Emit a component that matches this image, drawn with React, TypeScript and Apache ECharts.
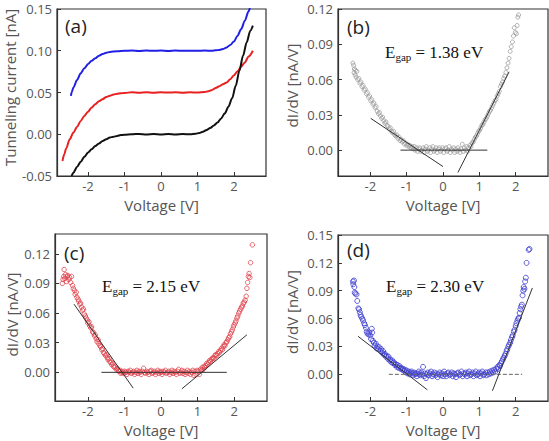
import { useEffect, useRef } from "react";
import * as echarts from "echarts";

// ---- tick values ----
const voltTicks = [-2, -1, 0, 1, 2];
const currentTicks = [-0.05, 0, 0.05, 0.1, 0.15];
const didvTicksB = [0, 0.03, 0.06, 0.09, 0.12];
const didvTicksC = [0, 0.03, 0.06, 0.09, 0.12];
const didvTicksD = [0, 0.03, 0.06, 0.09, 0.12, 0.15];

// ---- (a) I–V curves: [voltage V, current nA] ----
const ivBlack = [
  [-2.45, -0.05], [-2.4, -0.046], [-2.3, -0.039], [-2.2, -0.033], [-2.1, -0.027], [-2.0, -0.022],
  [-1.9, -0.018], [-1.8, -0.014], [-1.7, -0.011], [-1.6, -0.008], [-1.5, -0.006], [-1.4, -0.004],
  [-1.3, -0.003], [-1.2, -0.002], [-1.1, -0.001], [-1.0, -0.0006], [-0.8, 0.0], [-0.6, 0.0004],
  [-0.4, -0.0003], [-0.2, 0.0003], [0.0, -0.0002], [0.2, 0.0003], [0.4, -0.0002], [0.6, 0.0002],
  [0.8, 0.0], [0.95, 0.0005], [1.05, 0.0015], [1.15, 0.003], [1.25, 0.005], [1.35, 0.0075],
  [1.45, 0.0105], [1.55, 0.014], [1.65, 0.019], [1.75, 0.025], [1.85, 0.033], [1.95, 0.043],
  [2.05, 0.058], [2.15, 0.076], [2.25, 0.094], [2.35, 0.11], [2.45, 0.124], [2.52, 0.13],
];
const ivRed = [
  [-2.7, -0.032], [-2.65, -0.024], [-2.6, -0.017], [-2.5, -0.006], [-2.4, 0.002], [-2.3, 0.009],
  [-2.2, 0.016], [-2.1, 0.022], [-2.0, 0.027], [-1.9, 0.032], [-1.8, 0.036], [-1.7, 0.0395],
  [-1.6, 0.042], [-1.5, 0.0445], [-1.4, 0.046], [-1.3, 0.0475], [-1.2, 0.0485], [-1.1, 0.049],
  [-1.0, 0.0495], [-0.8, 0.0502], [-0.6, 0.0498], [-0.4, 0.0503], [-0.2, 0.0498], [0.0, 0.0502],
  [0.2, 0.0499], [0.4, 0.0502], [0.6, 0.0498], [0.8, 0.0502], [1.0, 0.05], [1.2, 0.0505],
  [1.3, 0.0515], [1.4, 0.053], [1.5, 0.0553], [1.6, 0.0575], [1.7, 0.0598], [1.8, 0.062],
  [1.9, 0.066], [2.0, 0.0705], [2.1, 0.0755], [2.2, 0.081], [2.3, 0.086], [2.4, 0.093], [2.52, 0.1],
];
const ivBlue = [
  [-2.47, 0.046], [-2.44, 0.051], [-2.4, 0.056], [-2.3, 0.065], [-2.2, 0.073], [-2.1, 0.079],
  [-2.0, 0.084], [-1.9, 0.088], [-1.8, 0.091], [-1.7, 0.094], [-1.6, 0.096], [-1.5, 0.0975],
  [-1.4, 0.0985], [-1.2, 0.0995], [-1.0, 0.1], [-0.8, 0.1002], [-0.6, 0.0998], [-0.4, 0.1002],
  [-0.2, 0.0999], [0.0, 0.1002], [0.2, 0.0998], [0.4, 0.1002], [0.6, 0.0999], [0.8, 0.1001],
  [1.0, 0.0999], [1.2, 0.1002], [1.4, 0.1], [1.5, 0.1005], [1.6, 0.101], [1.7, 0.102],
  [1.8, 0.104], [1.9, 0.107], [2.0, 0.111], [2.1, 0.118], [2.2, 0.126], [2.3, 0.136],
  [2.4, 0.147], [2.46, 0.155],
];

// ---- (b) dI/dV, Egap = 1.38 eV ----
const didvB = [
  [-2.48, 0.074], [-2.46, 0.072], [-2.45, 0.066], [-2.44, 0.069], [-2.42, 0.064], [-2.41, 0.068],
  [-2.39, 0.062], [-2.37, 0.067], [-2.35, 0.06], [-2.32, 0.061], [-2.29, 0.057], [-2.26, 0.058],
  [-2.23, 0.054], [-2.2, 0.055], [-2.17, 0.051], [-2.14, 0.052], [-2.11, 0.048], [-2.08, 0.049],
  [-2.05, 0.045], [-2.02, 0.046], [-1.99, 0.042], [-1.96, 0.043], [-1.93, 0.039], [-1.9, 0.04],
  [-1.87, 0.036], [-1.84, 0.037], [-1.81, 0.033], [-1.78, 0.031], [-1.75, 0.032], [-1.72, 0.029],
  [-1.69, 0.027], [-1.66, 0.028], [-1.63, 0.025], [-1.6, 0.023], [-1.57, 0.024], [-1.54, 0.021],
  [-1.51, 0.02], [-1.48, 0.018], [-1.45, 0.019], [-1.42, 0.016], [-1.39, 0.015], [-1.36, 0.016],
  [-1.33, 0.013], [-1.3, 0.012], [-1.27, 0.013], [-1.24, 0.01], [-1.21, 0.011], [-1.18, 0.008],
  [-1.15, 0.009], [-1.12, 0.007], [-1.09, 0.008], [-1.06, 0.005], [-1.03, 0.006], [-1.0, 0.004],
  [-0.97, 0.005], [-0.94, 0.003], [-0.91, 0.004], [-0.88, 0.002], [-0.85, 0.003], [-0.82, 0.001],
  [-0.79, 0.003], [-0.76, 0.0], [-0.73, 0.002], [-0.7, -0.001], [-0.67, 0.001], [-0.64, 0.002],
  [-0.61, -0.001], [-0.58, 0.0], [-0.55, 0.002], [-0.52, -0.002], [-0.49, 0.001], [-0.46, 0.003],
  [-0.43, -0.001], [-0.4, 0.0], [-0.37, 0.002], [-0.34, -0.002], [-0.31, 0.001], [-0.28, 0.003],
  [-0.25, -0.001], [-0.22, 0.0], [-0.19, 0.002], [-0.16, -0.002], [-0.13, 0.001], [-0.1, 0.002],
  [-0.07, -0.001], [-0.04, 0.0], [-0.01, 0.002], [0.02, -0.002], [0.05, 0.001], [0.08, 0.002],
  [0.11, -0.001], [0.14, 0.0], [0.17, 0.003], [0.2, -0.002], [0.23, 0.001], [0.26, 0.0],
  [0.29, 0.002], [0.32, -0.002], [0.35, 0.001], [0.38, -0.001], [0.41, 0.002], [0.44, 0.0],
  [0.47, -0.002], [0.5, 0.001], [0.53, 0.005], [0.56, -0.001], [0.59, 0.002], [0.62, 0.0],
  [0.65, 0.003], [0.68, -0.001], [0.71, 0.002], [0.74, 0.004], [0.77, 0.003], [0.8, 0.006],
  [0.83, 0.007], [0.86, 0.009], [0.89, 0.011], [0.92, 0.012], [0.95, 0.014], [0.98, 0.016],
  [1.01, 0.017], [1.04, 0.019], [1.07, 0.021], [1.1, 0.022], [1.13, 0.024], [1.16, 0.026],
  [1.19, 0.027], [1.22, 0.029], [1.25, 0.031], [1.28, 0.033], [1.31, 0.034], [1.34, 0.036],
  [1.37, 0.038], [1.4, 0.04], [1.43, 0.042], [1.46, 0.043], [1.49, 0.046], [1.52, 0.048],
  [1.55, 0.05], [1.58, 0.054], [1.61, 0.056], [1.64, 0.058], [1.67, 0.061], [1.7, 0.063],
  [1.73, 0.066], [1.76, 0.07], [1.79, 0.074], [1.82, 0.078], [1.85, 0.084], [1.88, 0.088],
  [1.91, 0.092], [1.94, 0.097], [1.96, 0.104], [1.99, 0.1], [2.02, 0.099], [2.04, 0.106],
  [2.06, 0.113], [2.08, 0.115],
];
const fitB = [
  [[-1.99, 0.027], [0.0, -0.014]],
  [[-1.17, 0], [1.22, 0]],
  [[0.41, -0.019], [1.82, 0.0666]],
];

// ---- (c) dI/dV, Egap = 2.15 eV ----
const didvC = [
  [-2.7, 0.09], [-2.68, 0.094], [-2.66, 0.097], [-2.65, 0.104], [-2.63, 0.095], [-2.61, 0.099],
  [-2.59, 0.092], [-2.57, 0.097], [-2.55, 0.098], [-2.52, 0.094], [-2.5, 0.096], [-2.47, 0.091],
  [-2.45, 0.097], [-2.42, 0.088], [-2.4, 0.085], [-2.37, 0.083], [-2.35, 0.079], [-2.32, 0.081],
  [-2.3, 0.076], [-2.27, 0.074], [-2.25, 0.072], [-2.22, 0.069], [-2.2, 0.07], [-2.17, 0.066],
  [-2.15, 0.063], [-2.12, 0.064], [-2.1, 0.059], [-2.07, 0.057], [-2.05, 0.055], [-2.02, 0.053],
  [-2.0, 0.05], [-1.97, 0.051], [-1.95, 0.047], [-1.92, 0.045], [-1.9, 0.046], [-1.87, 0.041],
  [-1.85, 0.04], [-1.82, 0.037], [-1.8, 0.038], [-1.77, 0.034], [-1.75, 0.031], [-1.72, 0.033],
  [-1.7, 0.029], [-1.67, 0.027], [-1.65, 0.026], [-1.62, 0.023], [-1.6, 0.024], [-1.57, 0.02],
  [-1.55, 0.019], [-1.52, 0.017], [-1.5, 0.018], [-1.47, 0.015], [-1.45, 0.013], [-1.42, 0.014],
  [-1.4, 0.011], [-1.37, 0.01], [-1.35, 0.008], [-1.32, 0.009], [-1.3, 0.006], [-1.27, 0.005],
  [-1.25, 0.006], [-1.22, 0.003], [-1.2, 0.004], [-1.17, 0.002], [-1.15, 0.001], [-1.12, 0.002],
  [-1.1, -0.001], [-1.07, 0.0], [-1.05, 0.001], [-1.02, -0.001], [-0.99, 0.001], [-0.96, 0.0],
  [-0.93, -0.002], [-0.9, 0.001], [-0.87, 0.0], [-0.84, 0.002], [-0.81, -0.001], [-0.78, 0.0],
  [-0.75, 0.001], [-0.72, -0.002], [-0.69, 0.0], [-0.66, 0.002], [-0.63, -0.001], [-0.6, 0.001],
  [-0.57, 0.0], [-0.54, -0.002], [-0.51, 0.001], [-0.48, 0.004], [-0.45, 0.0], [-0.42, -0.001],
  [-0.39, 0.001], [-0.36, 0.0], [-0.33, -0.002], [-0.3, 0.001], [-0.27, 0.002], [-0.24, -0.001],
  [-0.21, 0.0], [-0.18, 0.001], [-0.15, -0.002], [-0.12, 0.0], [-0.09, 0.002], [-0.06, -0.001],
  [-0.03, 0.001], [0.0, 0.0], [0.03, -0.002], [0.06, 0.001], [0.09, 0.0], [0.12, 0.002],
  [0.15, -0.001], [0.18, 0.0], [0.21, 0.001], [0.24, -0.002], [0.27, 0.0], [0.3, 0.002],
  [0.33, -0.001], [0.36, 0.001], [0.39, 0.0], [0.42, -0.002], [0.45, 0.001], [0.48, 0.003],
  [0.51, -0.001], [0.54, 0.0], [0.57, 0.002], [0.6, -0.001], [0.63, 0.001], [0.66, -0.002],
  [0.69, 0.0], [0.72, 0.002], [0.75, -0.001], [0.78, 0.001], [0.81, -0.002], [0.84, 0.0],
  [0.87, 0.002], [0.9, -0.003], [0.93, 0.001], [0.96, -0.002], [0.99, 0.002], [1.02, 0.001],
  [1.05, -0.002], [1.08, 0.003], [1.1, 0.002], [1.13, 0.005], [1.15, 0.003], [1.18, 0.006],
  [1.2, 0.005], [1.23, 0.007], [1.25, 0.009], [1.28, 0.008], [1.3, 0.01], [1.33, 0.012],
  [1.35, 0.011], [1.38, 0.013], [1.4, 0.014], [1.43, 0.015], [1.45, 0.014], [1.48, 0.017],
  [1.5, 0.018], [1.53, 0.017], [1.55, 0.019], [1.58, 0.021], [1.6, 0.02], [1.63, 0.022],
  [1.65, 0.024], [1.68, 0.023], [1.7, 0.026], [1.73, 0.028], [1.75, 0.027], [1.78, 0.03],
  [1.8, 0.031], [1.83, 0.033], [1.85, 0.035], [1.88, 0.036], [1.9, 0.039], [1.93, 0.041],
  [1.95, 0.043], [1.98, 0.046], [2.0, 0.048], [2.03, 0.05], [2.05, 0.052], [2.08, 0.055],
  [2.1, 0.057], [2.13, 0.06], [2.15, 0.062], [2.18, 0.064], [2.2, 0.066], [2.23, 0.067],
  [2.25, 0.07], [2.28, 0.071], [2.3, 0.073], [2.33, 0.077], [2.35, 0.085], [2.37, 0.091],
  [2.39, 0.097], [2.41, 0.1], [2.43, 0.096], [2.45, 0.111], [2.5, 0.129],
];
const fitC = [
  [[-2.38, 0.069], [-0.76, -0.016]],
  [[-1.63, 0], [1.8, 0]],
  [[0.57, -0.0167], [2.35, 0.038]],
];

// ---- (d) dI/dV, Egap = 2.30 eV ----
const didvD = [
  [-2.48, 0.1], [-2.47, 0.097], [-2.45, 0.101], [-2.44, 0.094], [-2.43, 0.088], [-2.41, 0.087],
  [-2.38, 0.086], [-2.36, 0.079], [-2.33, 0.071], [-2.31, 0.07], [-2.29, 0.067], [-2.27, 0.064],
  [-2.25, 0.062], [-2.22, 0.06], [-2.2, 0.058], [-2.17, 0.055], [-2.15, 0.053], [-2.12, 0.05],
  [-2.1, 0.046], [-2.08, 0.044], [-2.05, 0.043], [-2.03, 0.045], [-2.0, 0.042], [-1.98, 0.038],
  [-1.96, 0.049], [-1.95, 0.045], [-1.93, 0.036], [-1.9, 0.034], [-1.88, 0.031], [-1.85, 0.033],
  [-1.83, 0.028], [-1.8, 0.03], [-1.78, 0.027], [-1.75, 0.029], [-1.72, 0.025], [-1.7, 0.027],
  [-1.67, 0.023], [-1.65, 0.025], [-1.62, 0.021], [-1.6, 0.022], [-1.57, 0.019], [-1.55, 0.02],
  [-1.52, 0.017], [-1.5, 0.019], [-1.47, 0.015], [-1.45, 0.016], [-1.42, 0.013], [-1.4, 0.015],
  [-1.37, 0.012], [-1.35, 0.013], [-1.32, 0.01], [-1.3, 0.011], [-1.27, 0.008], [-1.25, 0.01],
  [-1.22, 0.007], [-1.2, 0.009], [-1.17, 0.006], [-1.15, 0.007], [-1.12, 0.005], [-1.1, 0.006],
  [-1.07, 0.004], [-1.05, 0.005], [-1.02, 0.002], [-1.0, 0.004], [-0.97, 0.001], [-0.95, 0.003],
  [-0.92, 0.0], [-0.9, 0.002], [-0.87, 0.003], [-0.85, 0.001], [-0.82, -0.001], [-0.8, 0.002],
  [-0.77, 0.0], [-0.75, 0.001], [-0.72, -0.002], [-0.7, 0.001], [-0.67, 0.003], [-0.65, 0.0],
  [-0.62, -0.001], [-0.6, 0.002], [-0.57, 0.0], [-0.55, 0.008], [-0.52, -0.002], [-0.5, 0.001],
  [-0.47, -0.004], [-0.45, 0.0], [-0.42, 0.002], [-0.39, -0.001], [-0.36, 0.001], [-0.33, 0.003],
  [-0.3, -0.002], [-0.27, 0.0], [-0.24, 0.002], [-0.21, -0.001], [-0.18, 0.001], [-0.15, -0.003],
  [-0.12, 0.0], [-0.09, 0.002], [-0.06, -0.001], [-0.03, 0.001], [0.0, -0.002], [0.03, 0.003],
  [0.06, 0.0], [0.09, -0.002], [0.12, 0.001], [0.15, 0.002], [0.18, -0.001], [0.21, 0.0],
  [0.24, 0.002], [0.27, -0.002], [0.3, 0.001], [0.33, 0.0], [0.36, -0.003], [0.39, 0.001],
  [0.42, 0.002], [0.45, -0.001], [0.48, 0.0], [0.51, 0.003], [0.54, -0.002], [0.57, 0.001],
  [0.6, 0.0], [0.63, 0.002], [0.66, -0.002], [0.69, 0.001], [0.72, 0.003], [0.75, -0.001],
  [0.78, 0.0], [0.81, 0.002], [0.84, -0.002], [0.87, 0.001], [0.9, 0.003], [0.93, -0.001],
  [0.96, 0.0], [0.99, 0.002], [1.02, -0.002], [1.05, 0.001], [1.08, 0.003], [1.11, -0.001],
  [1.14, 0.0], [1.17, 0.002], [1.2, -0.001], [1.23, 0.002], [1.26, 0.0], [1.29, 0.003],
  [1.32, 0.001], [1.35, 0.004], [1.38, 0.002], [1.41, 0.005], [1.44, 0.003], [1.47, 0.006],
  [1.5, 0.008], [1.52, 0.006], [1.55, 0.01], [1.57, 0.009], [1.6, 0.012], [1.62, 0.014],
  [1.65, 0.016], [1.67, 0.018], [1.7, 0.02], [1.72, 0.022], [1.75, 0.025], [1.77, 0.027],
  [1.8, 0.03], [1.82, 0.032], [1.85, 0.034], [1.87, 0.037], [1.9, 0.04], [1.92, 0.042],
  [1.95, 0.046], [1.97, 0.048], [2.0, 0.052], [2.02, 0.055], [2.05, 0.058], [2.07, 0.06],
  [2.09, 0.061], [2.11, 0.066], [2.13, 0.07], [2.15, 0.073], [2.17, 0.075], [2.19, 0.085],
  [2.21, 0.09], [2.22, 0.094], [2.24, 0.092], [2.26, 0.1], [2.28, 0.104], [2.3, 0.12],
  [2.36, 0.134], [2.38, 0.135],
];
const fitD = [
  [[-2.34, 0.041], [-0.43, -0.0167]],
  [[1.36, -0.0177], [2.46, 0.093]],
];
const baselineD = [[-1.49, 0], [2.18, 0]];

// ---- styling ----
const AXIS_COLOR = "#333";
const LABEL_COLOR = "#555";
const SANS = "'Open Sans', sans-serif";
const SERIF = "'Liberation Serif', 'Times New Roman', serif";

const grids = [
  { left: 57, top: 9, width: 209, height: 167 },
  { left: 338, top: 9, width: 210, height: 167 },
  { left: 55, top: 234, width: 212, height: 167 },
  { left: 338, top: 235, width: 210, height: 166 },
];

function xAxisFor(gridIndex: number, min: number, max: number) {
  return {
    type: "value",
    gridIndex,
    min,
    max,
    name: "Voltage [V]",
    nameLocation: "middle",
    nameGap: 21,
    nameTextStyle: { color: LABEL_COLOR, fontSize: 15, lineHeight: 16, fontFamily: SANS },
    axisLine: { show: true, onZero: false, lineStyle: { color: AXIS_COLOR, width: 1.2 } },
    axisTick: { show: true, inside: true, length: 4, customValues: voltTicks, lineStyle: { color: AXIS_COLOR } },
    axisLabel: { customValues: voltTicks, margin: 3, color: LABEL_COLOR, fontSize: 13, lineHeight: 14, fontFamily: SANS },
    splitLine: { show: false },
  };
}

function yAxisFor(
  gridIndex: number,
  min: number,
  max: number,
  ticks: number[],
  name: string,
  gap: number,
  lift: number
) {
  return {
    type: "value",
    gridIndex,
    min,
    max,
    name,
    nameLocation: "middle",
    nameGap: gap,
    nameTextStyle: {
      color: LABEL_COLOR,
      fontSize: 15,
      lineHeight: 16,
      fontFamily: SANS,
      padding: [0, 0, 0, lift * 2],
    },
    axisLine: { show: true, onZero: false, lineStyle: { color: AXIS_COLOR, width: 1.2 } },
    axisTick: { show: true, inside: true, length: 4, customValues: ticks, lineStyle: { color: AXIS_COLOR } },
    axisLabel: {
      customValues: ticks,
      margin: 5,
      color: LABEL_COLOR,
      fontSize: 13,
      lineHeight: 12,
      fontFamily: SANS,
      formatter: (v: number) => v.toFixed(2),
    },
    splitLine: { show: false },
  };
}

function curve(data: number[][], color: string) {
  return {
    type: "line",
    xAxisIndex: 0,
    yAxisIndex: 0,
    data,
    showSymbol: false,
    smooth: 0.3,
    smoothMonotone: "x",
    clip: true,
    lineStyle: { color, width: 2 },
    itemStyle: { color },
  };
}

function dots(idx: number, data: number[][], color: string, size: number) {
  return {
    type: "scatter",
    xAxisIndex: idx,
    yAxisIndex: idx,
    data,
    symbol: "circle",
    symbolSize: size,
    clip: true,
    itemStyle: { color: "rgba(255,255,255,0)", borderColor: color, borderWidth: 1 },
  };
}

function segment(idx: number, data: number[][], color: string, dashed = false) {
  return {
    type: "line",
    xAxisIndex: idx,
    yAxisIndex: idx,
    data,
    showSymbol: false,
    clip: true,
    lineStyle: { color, width: 1, type: dashed ? [4, 2] : "solid" },
    itemStyle: { color },
  };
}

function panelTag(text: string, x: number, y: number) {
  return {
    type: "text",
    x,
    y,
    style: { text, fill: "#222", fontSize: 19, fontFamily: SANS, verticalAlign: "middle", align: "left" },
  };
}

function gapTag(value: string, x: number, y: number) {
  return {
    type: "text",
    x,
    y,
    style: {
      text: `{e|E}{s|gap}{e| = ${value} eV}`,
      verticalAlign: "middle",
      align: "left",
      rich: {
        e: { fontFamily: SERIF, fontSize: 17, fill: "#111", lineHeight: 20 },
        s: { fontFamily: SERIF, fontSize: 11, fill: "#111", lineHeight: 10, verticalAlign: "bottom" },
      },
    },
  };
}

export default function App() {
  const ref = useRef<HTMLDivElement>(null);

  useEffect(() => {
    if (!ref.current) return;
    const chart = echarts.init(ref.current, null, { renderer: "svg" });

    const fitSeriesB = fitB.map((d) => segment(1, d, "#333"));
    const fitSeriesC = fitC.map((d) => segment(2, d, "#333"));
    const fitSeriesD = fitD.map((d) => segment(3, d, "#333"));

    chart.setOption({
      animation: false,
      backgroundColor: "#fff",
      grid: grids.map((g) => ({ ...g, show: true, borderColor: AXIS_COLOR, borderWidth: 1.2, containLabel: false })),
      xAxis: [
        xAxisFor(0, -2.85, 2.88),
        xAxisFor(1, -2.89, 2.89),
        xAxisFor(2, -2.9, 2.9),
        xAxisFor(3, -2.89, 2.89),
      ],
      yAxis: [
        yAxisFor(0, -0.05, 0.15, currentTicks, "Tunneling current [nA]", 38, 5),
        yAxisFor(1, -0.022, 0.12, didvTicksB, "dI/dV [nA/V]", 38, 7),
        yAxisFor(2, -0.029, 0.14, didvTicksC, "dI/dV [nA/V]", 35, 3),
        yAxisFor(3, -0.0287, 0.15, didvTicksD, "dI/dV [nA/V]", 38, 6),
      ],
      series: [
        curve(ivBlue, "#1f1fe6"),
        curve(ivRed, "#e82020"),
        curve(ivBlack, "#111"),
        dots(1, didvB, "#9c9c9c", 4),
        ...fitSeriesB,
        dots(2, didvC, "#e0404a", 4.5),
        ...fitSeriesC,
        dots(3, didvD, "#3a3ad0", 5),
        segment(3, baselineD, "#666", true),
        ...fitSeriesD,
      ],
      graphic: [
        panelTag("(a)", 65, 26),
        panelTag("(b)", 347, 27),
        panelTag("(c)", 64, 253),
        panelTag("(d)", 347, 250),
        gapTag("1.38", 385, 52),
        gapTag("2.15", 102, 286),
        gapTag("2.30", 386, 286),
      ],
    });

    return () => chart.dispose();
  }, []);

  return (
    <div
      ref={ref}
      style={{ position: "absolute", left: 0, top: 0, width: 549, height: 441, background: "#fff" }}
    />
  );
}
